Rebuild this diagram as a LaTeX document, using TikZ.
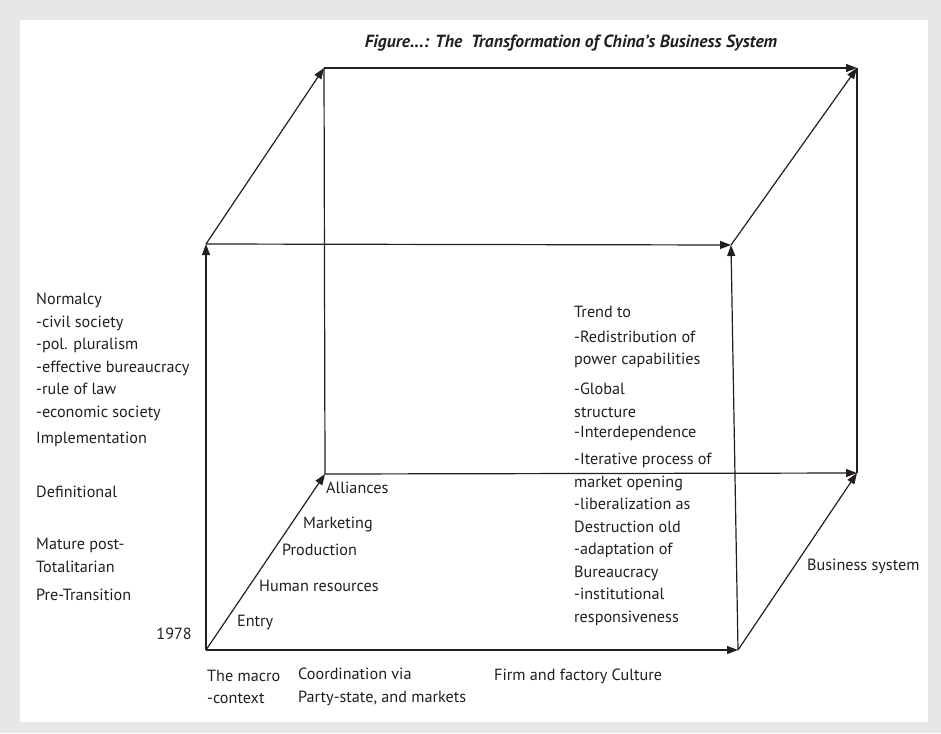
\documentclass[tikz,border=0pt]{standalone}
\usepackage{fontspec}
\setmainfont{PT Sans}
\usetikzlibrary{arrows.meta}
\definecolor{framegray}{RGB}{230,231,233}
\definecolor{ink}{RGB}{35,31,32}
\tikzset{
  lbl/.style={font=\fontsize{16.2}{22.5}\selectfont, text=ink, inner sep=0pt, anchor=west, align=left},
  edge/.style={line width=1.2pt, ink},
  arr/.style={edge, -{Triangle[length=11pt,width=8pt]}}
}
\begin{document}
\begin{tikzpicture}[x=1pt,y=-1pt]
\fill[framegray] (0,0) rectangle (941,733);
\fill[white] (20,20) rectangle (928,722);
\useasboundingbox (0,0) rectangle (941,733);
% corners of the cube
\coordinate (A) at (206,650);
\coordinate (B) at (738,650);
\coordinate (C) at (206,244);
\coordinate (D) at (731,245);
\coordinate (E) at (325,474);
\coordinate (F) at (857,473);
\coordinate (G) at (324,68);
\coordinate (H) at (857,68);
% edges
\draw[edge] (E) -- (G);
\draw[edge] (F) -- (H);
\draw[arr] (A) -- (C);
\draw[arr] (A) -- (B);
\draw[arr] (A) -- (E);
\draw[arr] (C) -- (D);
\draw[arr] (B) -- (D);
\draw[arr] (C) -- (G);
\draw[arr] (D) -- (H);
\draw[arr] (G) -- (H);
\draw[arr] (E) -- (F);
\draw[arr] (B) -- (F);
% title
\node[lbl, anchor=center, font=\fontsize{17.6}{20}\selectfont\bfseries\itshape] (title) at (571,43)
  {Figure...: The\ \ Transformation of China's Business System};
% left axis
\node[lbl] (normalcy) at (36,357) {Normalcy\\-civil society\\-pol. pluralism\\-effective bureaucracy\\-rule of law\\-economic society};
\node[lbl] (impl) at (36,439) {Implementation};
\node[lbl] (defn) at (36,492) {Definitional};
\node[lbl] (mature) at (36,555.5) {Mature post-\\Totalitarian};
\node[lbl] (pretrans) at (36,595) {Pre-Transition};
\node[lbl, anchor=east] (year) at (192,634) {1978};
% depth axis
\node[lbl] (alliances) at (326,488) {Alliances};
\node[lbl] (marketing) at (303,524) {Marketing};
\node[lbl] (production) at (282,550) {Production};
\node[lbl] (humanres) at (259,586) {Human resources};
\node[lbl] (entry) at (237,622) {Entry};
% bottom axis
\node[lbl] (macro) at (207,687) {The macro\\-context};
\node[lbl] (coord) at (298,687) {Coordination via\\Party-state, and markets};
\node[lbl] (culture) at (494,676) {Firm and factory Culture};
% right side
\node[lbl] (trend) at (574,312) {Trend to};
\node[lbl] (redist) at (574,349.5) {-Redistribution of\\power capabilities};
\node[lbl] (global) at (574,400.5) {-Global\\structure};
\node[lbl] (interdep) at (574,433) {-Interdependence};
\node[lbl] (iterative) at (574,539.5) {-Iterative process of\\market opening\\-liberalization as\\Destruction old\\-adaptation of\\Bureaucracy\\-institutional\\responsiveness};
\node[lbl] (bizsys) at (807,566) {Business system};
\end{tikzpicture}
\end{document}
